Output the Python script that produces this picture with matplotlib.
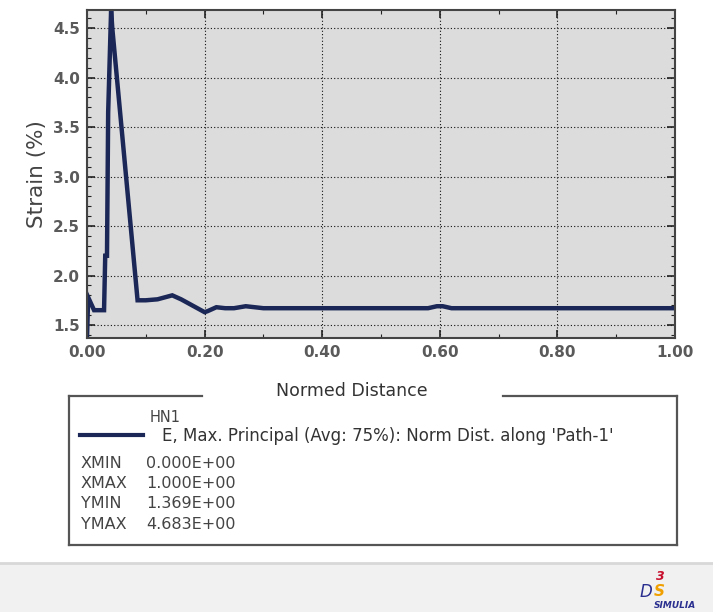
import matplotlib
matplotlib.use("Agg")
import matplotlib.pyplot as plt
from matplotlib.lines import Line2D
from matplotlib.patches import Rectangle
from matplotlib.ticker import MultipleLocator

# path data
dist = [0.0, 0.002, 0.012, 0.029, 0.031, 0.034, 0.036, 0.041, 0.043, 0.086,
        0.10, 0.12, 0.145, 0.16, 0.20, 0.205, 0.22, 0.235, 0.25, 0.27,
        0.285, 0.30, 0.58, 0.595, 0.605, 0.62, 1.0]
strain = [1.369, 1.78, 1.65, 1.65, 2.2, 2.2, 3.65, 4.683, 4.5, 1.75,
          1.75, 1.76, 1.80, 1.76, 1.63, 1.64, 1.68, 1.67, 1.67, 1.69,
          1.68, 1.67, 1.67, 1.69, 1.69, 1.67, 1.67]

x_ticks = [0.0, 0.2, 0.4, 0.6, 0.8, 1.0]
y_ticks = [1.5, 2.0, 2.5, 3.0, 3.5, 4.0, 4.5]
stats = [("XMIN", "0.000E+00"), ("XMAX", "1.000E+00"),
         ("YMIN", "1.369E+00"), ("YMAX", "4.683E+00")]
curve_name = "HN1"
curve_desc = "E, Max. Principal (Avg: 75%): Norm Dist. along 'Path-1'"

W, H = 713, 612
fig = plt.figure(figsize=(W / 100, H / 100), dpi=100)
fig.patch.set_facecolor("white")
plt.rcParams["font.family"] = ["DejaVu Sans"]

line_col = "#1b2757"
ax = fig.add_axes([87 / W, 1 - 338 / H, (675 - 87) / W, (338 - 10) / H])
ax.set_facecolor("#dcdcdc")
ax.plot(dist, strain, color=line_col, lw=3.2, solid_joinstyle="miter")
ax.set_xlim(0, 1)
ax.set_ylim(1.369, 4.683)
ax.set_xticks(x_ticks)
ax.set_yticks(y_ticks)
ax.set_xticklabels([f"{v:.2f}" for v in x_ticks])
ax.set_yticklabels([f"{v:.1f}" for v in y_ticks])
ax.xaxis.set_minor_locator(MultipleLocator(0.1))
ax.yaxis.set_minor_locator(MultipleLocator(0.1))
ax.tick_params(which="both", direction="in", top=True, right=True,
               color="#222222", labelsize=11, labelcolor="#5a5a5a")
ax.tick_params(which="major", length=6, width=1.2, pad=5)
ax.tick_params(which="minor", length=3, width=0.8)
for lab in ax.get_xticklabels() + ax.get_yticklabels():
    lab.set_fontweight("bold")
ax.grid(True, which="major", color="#111111", ls=(0, (1, 2)), lw=0.8)
for s in ax.spines.values():
    s.set_color("#444444")
    s.set_linewidth(1.5)
ax.set_ylabel("Strain (%)", fontsize=15.5, color="#444444", labelpad=4)

# legend box with the axis title sitting in its top edge
def fx(px):
    return px / W

def fy(py):
    return 1 - py / H

box_col = "#555555"
for seg in [((69, 396), (202, 396)), ((503, 396), (677, 396)),
            ((69, 396), (69, 545)), ((677, 396), (677, 545)),
            ((69, 545), (677, 545))]:
    (x0, y0), (x1, y1) = seg
    fig.add_artist(Line2D([fx(x0), fx(x1)], [fy(y0), fy(y1)],
                          color=box_col, lw=1.6))
fig.text(fx(352), fy(391), "Normed Distance", ha="center", va="center",
         fontsize=12.5, color="#333333")

fig.add_artist(Line2D([fx(80), fx(143)], [fy(435), fy(435)], color=line_col, lw=3))
fig.text(fx(150), fy(417), curve_name, va="center", fontsize=10.5, color="#444444")
fig.text(fx(162), fy(436), curve_desc, va="center", fontsize=12, color="#333333")
for i, (k, v) in enumerate(stats):
    yy = fy(463 + i * 20.5)
    fig.text(fx(81), yy, k, va="center", fontsize=11.5, color="#444444")
    fig.text(fx(146), yy, v, va="center", fontsize=11.5, color="#444444")

# footer strip
fig.add_artist(Rectangle((0, 0), 1, fy(563), transform=fig.transFigure,
                         facecolor="#f1f1f1", edgecolor="none"))
fig.add_artist(Line2D([0, 1], [fy(563), fy(563)], color="#d8d8d8", lw=2))
fig.text(fx(656), fy(576), "3", fontsize=9, color="#c8102e", style="italic",
         fontweight="bold", va="center")
fig.text(fx(640), fy(592), "D", fontsize=12, color="#2a2f8f", style="italic",
         va="center")
fig.text(fx(654), fy(591), "S", fontsize=11, color="#f0a000", style="italic",
         fontweight="bold", va="center")
fig.text(fx(654), fy(606), "SIMULIA", fontsize=6.5, color="#2a2f8f",
         style="italic", fontweight="bold", va="center")

fig.savefig("out.png", dpi=100)
